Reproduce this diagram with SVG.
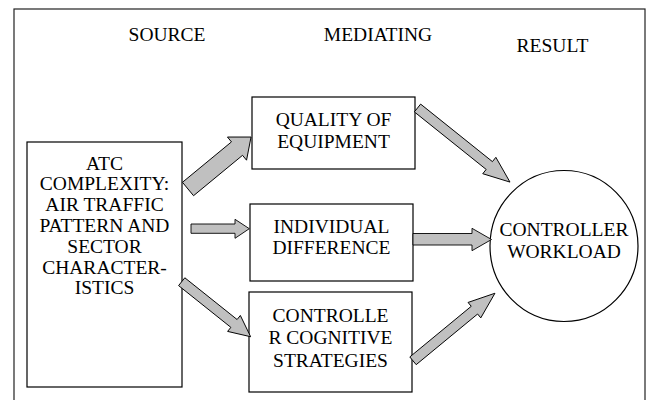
<svg xmlns="http://www.w3.org/2000/svg" width="649" height="400" viewBox="0 0 649 400">
<style>
text{fill:#000;text-anchor:middle}
.box{fill:#fff;stroke:#000;stroke-width:1.2}
.arr{fill:#c0c0c0;stroke:#000;stroke-width:0.9;stroke-linejoin:miter}
</style>
<rect width="649" height="400" fill="#fff"/>
<rect x="14" y="9" width="631" height="400" fill="none" stroke="#222" stroke-width="1.2"/>
<g id="headers">
<text x="167" y="41" font-family="Liberation Serif" font-size="19.5">SOURCE</text>
<text x="378" y="41" font-family="Liberation Serif" font-size="19.5">MEDIATING</text>
<text x="552.5" y="52" font-family="Liberation Serif" font-size="19.5">RESULT</text>
</g>
<g id="source">
<rect class="box" x="27" y="142" width="155" height="245"/>
<text x="104.5" y="169.5" font-family="Liberation Serif" font-size="19.5">ATC</text>
<text x="104.5" y="190.3" font-family="Liberation Serif" font-size="19.5">COMPLEXITY:</text>
<text x="104.5" y="211.1" font-family="Liberation Serif" font-size="19.5">AIR TRAFFIC</text>
<text x="104.5" y="231.9" font-family="Liberation Serif" font-size="19.5">PATTERN AND</text>
<text x="104.5" y="252.7" font-family="Liberation Serif" font-size="19.5">SECTOR</text>
<text x="104.5" y="273.5" font-family="Liberation Serif" font-size="19.5">CHARACTER-</text>
<text x="104.5" y="294.3" font-family="Liberation Serif" font-size="19.5">ISTICS</text>
</g>
<g id="quality">
<rect class="box" x="252" y="97" width="163" height="72"/>
<text x="333.5" y="126" font-family="Liberation Serif" font-size="19.5">QUALITY OF</text>
<text x="333.5" y="147.5" font-family="Liberation Serif" font-size="19.5">EQUIPMENT</text>
</g>
<g id="individual">
<rect class="box" x="250" y="204" width="163" height="77"/>
<text x="331.5" y="232.5" font-family="Liberation Serif" font-size="19.5">INDIVIDUAL</text>
<text x="331.5" y="254" font-family="Liberation Serif" font-size="19.5">DIFFERENCE</text>
</g>
<g id="cognitive">
<rect class="box" x="249" y="292" width="163" height="100"/>
<text x="330.5" y="321.5" font-family="Liberation Serif" font-size="19.5">CONTROLLE</text>
<text x="330.5" y="344" font-family="Liberation Serif" font-size="19.5">R COGNITIVE</text>
<text x="330.5" y="366.5" font-family="Liberation Serif" font-size="19.5">STRATEGIES</text>
</g>
<g id="workload">
<ellipse class="box" cx="564" cy="246" rx="74" ry="75.5"/>
<text x="564" y="236" font-family="Liberation Serif" font-size="19.5">CONTROLLER</text>
<text x="564" y="257.5" font-family="Liberation Serif" font-size="19.5">WORKLOAD</text>
</g>
<g id="connectors">
<polygon class="arr" transform="translate(188,189) rotate(-39.5)" points="0,-8.7 63.5,-8.7 63.5,-15 81.7,0 63.5,15 63.5,8.7 0,8.7"/>
<polygon class="arr" transform="translate(417.5,108) rotate(38.7)" points="0,-5 92,-5 92,-10.5 118.5,0 92,10.5 92,5 0,5"/>
<polygon class="arr" points="191,224 235,224 235,219.3 249.3,228.7 235,238.3 235,233.3 191,233.3"/>
<polygon class="arr" points="413,233.5 472,233.5 472,228.3 491.5,239.5 472,250.7 472,245 413,245"/>
<polygon class="arr" transform="translate(181.7,281.7) rotate(38.6)" points="0,-5 66.9,-5 66.9,-10.2 88.2,0 66.9,10.2 66.9,5 0,5"/>
<polygon class="arr" transform="translate(413,360.8) rotate(-39.5)" points="0,-5 79.6,-5 79.6,-10 106.2,0 79.6,10 79.6,5 0,5"/>
</g>
</svg>
